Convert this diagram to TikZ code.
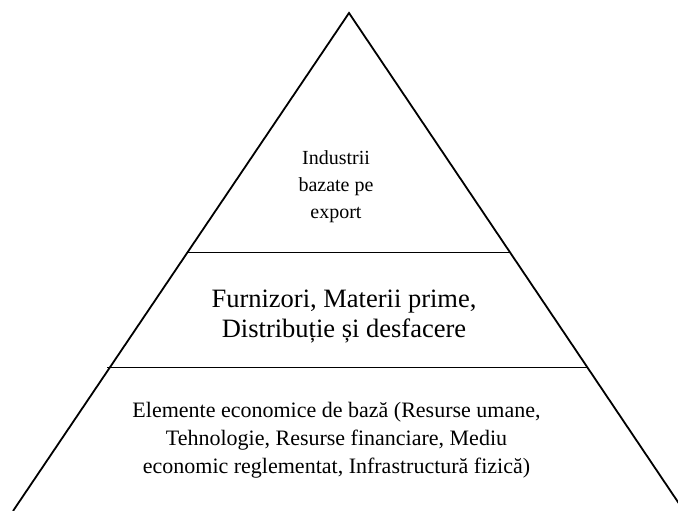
\documentclass[tikz,border=0pt]{standalone}
\usepackage{fontspec}
\setmainfont{Liberation Serif}
\begin{document}
\begin{tikzpicture}[x=1pt,y=-1pt,
  edge/.style={line width=1.8pt, line join=miter},
  divider/.style={line width=1.8pt},
  tier/.style={align=center, inner sep=0pt}]
\useasboundingbox (0,0) rectangle (678,511);
\begin{scope}
\clip (0,0) rectangle (678,511);
\coordinate (apex) at (349,13);
\coordinate (bl) at (13,511);
\coordinate (br) at (684,511);
\draw[edge] (bl) -- (apex) -- (br);
\coordinate (l1a) at (188,252.5);
\coordinate (l1b) at (510,252.5);
\coordinate (l2a) at (107,367.5);
\coordinate (l2b) at (587,367.5);
\draw[divider] (l1a) -- (l1b);
\draw[divider] (l2a) -- (l2b);
\end{scope}
\node[tier, font=\fontsize{20}{27}\selectfont] (top) at (336,187) {Industrii\\bazate pe\\export};
\node[tier, font=\fontsize{26.5}{30}\selectfont] (mid) at (344,317) {Furnizori, Materii prime,\\Distribuție și desfacere};
\node[tier, font=\fontsize{22}{28}\selectfont] (bot) at (336.5,440) {Elemente economice de bază (Resurse umane,\\Tehnologie, Resurse financiare, Mediu\\economic reglementat, Infrastructură fizică)};
\end{tikzpicture}
\end{document}
